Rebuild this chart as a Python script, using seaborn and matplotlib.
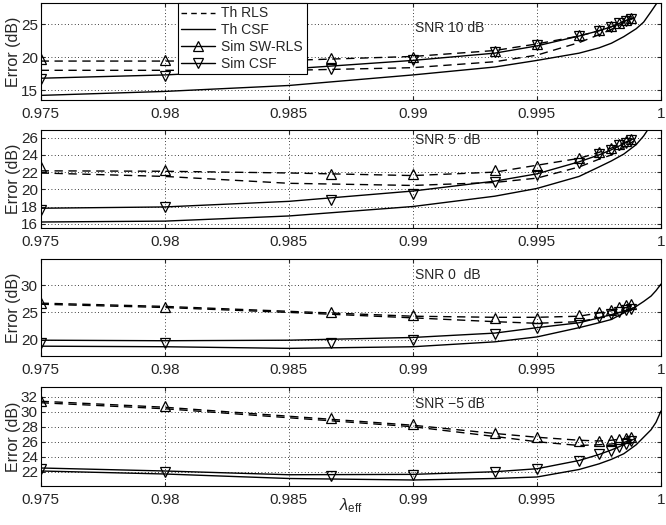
import matplotlib
matplotlib.use("Agg")
import matplotlib.pyplot as plt
from matplotlib.lines import Line2D
import seaborn as sns

# x positions (lambda_eff)
lam_sim = [0.975, 0.98, 0.9867, 0.99, 0.9933, 0.995, 0.9967, 0.9975, 0.998, 0.9983, 0.9986, 0.9988]
lam_th = [0.975, 0.98, 0.985, 0.99, 0.9933, 0.995, 0.9967, 0.9975, 0.998, 0.9985, 0.9989]
lam_csf = [0.975, 0.98, 0.985, 0.99, 0.9933, 0.995, 0.9967, 0.9975, 0.998, 0.9985,
           0.999, 0.9993, 0.9996, 0.9998, 1.0]

# SNR 10 dB
rls_a_10 = [19.4, 19.4, 19.5, 20.1, 21.0, 22.0, 23.2, 24.0, 24.6, 25.4, 26.0]
rls_b_10 = [18.0, 18.0, 18.0, 18.4, 19.3, 20.3, 22.2, 23.4, 24.2, 25.2, 25.9]
csf_a_10 = [16.8, 17.3, 18.2, 19.5, 20.6, 21.7, 23.2, 24.0, 24.6, 25.4, 26.0]
csf_b_10 = [14.2, 14.8, 15.7, 17.3, 18.5, 19.5, 20.6, 21.4, 22.1, 23.1, 24.3, 25.3, 26.9, 28.0, 29.3]
sim_sw_10 = [19.7, 19.6, 19.8, 20.0, 21.0, 22.0, 23.3, 24.1, 24.7, 25.2, 25.6, 25.9]
sim_csf_10 = [16.7, 17.2, 18.2, 19.6, 20.7, 21.8, 23.2, 24.0, 24.6, 25.1, 25.5, 25.8]

# SNR 5 dB
rls_a_5 = [22.15, 22.1, 21.9, 21.6, 22.0, 22.8, 23.6, 24.3, 24.8, 25.4, 25.9]
rls_b_5 = [21.9, 21.5, 20.7, 20.45, 20.8, 21.3, 22.6, 23.5, 24.0, 24.9, 25.6]
csf_a_5 = [17.8, 17.95, 18.6, 19.8, 20.95, 21.8, 23.2, 24.0, 24.6, 25.3, 25.9]
csf_b_5 = [16.2, 16.3, 16.9, 18.0, 19.2, 20.1, 21.5, 22.6, 23.3, 24.1, 25.2, 26.2, 27.5, 28.2, 29.0]
sim_sw_5 = [22.6, 22.2, 21.8, 21.8, 22.3, 22.7, 23.6, 24.3, 24.8, 25.3, 25.6, 25.9]
sim_csf_5 = [17.6, 17.9, 18.8, 19.5, 20.8, 21.65, 23.1, 24.05, 24.6, 25.1, 25.4, 25.7]

# SNR 0 dB
rls_a_0 = [26.7, 26.1, 25.2, 24.3, 24.1, 24.1, 24.3, 24.9, 25.3, 25.8, 26.2]
rls_b_0 = [26.5, 25.9, 25.0, 24.0, 23.3, 23.0, 23.3, 24.0, 24.5, 25.2, 25.8]
csf_a_0 = [19.9, 19.8, 19.9, 20.4, 21.2, 22.2, 23.1, 24.0, 24.6, 25.2, 25.85]
csf_b_0 = [18.8, 18.7, 18.4, 18.7, 19.6, 20.5, 22.2, 23.1, 23.7, 24.9, 26.1, 27.0, 28.0, 29.0, 30.2]
sim_sw_0 = [26.8, 26.0, 25.0, 24.5, 24.0, 23.9, 24.5, 25.1, 25.4, 26.0, 26.3, 26.6]
sim_csf_0 = [19.4, 19.3, 19.4, 20.0, 21.0, 22.2, 23.0, 24.2, 24.7, 25.1, 25.4, 25.6]

# SNR -5 dB
rls_a_m5 = [31.4, 30.6, 29.4, 28.2, 27.1, 26.6, 26.2, 26.1, 26.2, 26.4, 26.6]
rls_b_m5 = [31.2, 30.4, 29.2, 28.0, 26.7, 26.0, 25.5, 25.6, 25.7, 25.9, 26.35]
csf_a_m5 = [22.5, 22.1, 21.6, 21.65, 22.0, 22.4, 23.5, 24.3, 24.9, 25.6, 26.35]
csf_b_m5 = [22.1, 21.7, 21.1, 20.9, 21.1, 21.3, 22.3, 23.05, 23.65, 24.4, 25.6, 26.6, 27.6, 28.6, 30.1]
sim_sw_m5 = [31.4, 30.7, 29.2, 28.4, 27.1, 26.6, 26.05, 26.1, 26.2, 26.4, 26.5, 26.6]
sim_csf_m5 = [22.3, 22.0, 21.4, 21.55, 21.9, 22.35, 23.4, 24.3, 24.8, 25.25, 25.7, 26.05]

snr_labels = ["SNR 10 dB", "SNR 5  dB", "SNR 0  dB", "SNR \u22125 dB"]
x_ticks = [0.975, 0.98, 0.985, 0.99, 0.995, 1.0]
x_ticklabels = ["0.975", "0.98", "0.985", "0.99", "0.995", "1"]

panels = [
    (rls_a_10, rls_b_10, csf_a_10, csf_b_10, sim_sw_10, sim_csf_10),
    (rls_a_5, rls_b_5, csf_a_5, csf_b_5, sim_sw_5, sim_csf_5),
    (rls_a_0, rls_b_0, csf_a_0, csf_b_0, sim_sw_0, sim_csf_0),
    (rls_a_m5, rls_b_m5, csf_a_m5, csf_b_m5, sim_sw_m5, sim_csf_m5),
]
y_ticks = [[15, 20, 25], [16, 18, 20, 22, 24, 26], [20, 25, 30], [22, 24, 26, 28, 30, 32]]
y_lims = [(13.5, 28.2), (15.5, 26.9), (17.0, 34.8), (20.1, 33.3)]
rects = [(0.061, 0.8095, 0.9315, 0.1848),
         (0.061, 0.5657, 0.9315, 0.1867),
         (0.061, 0.3219, 0.9315, 0.1848),
         (0.061, 0.0743, 0.9315, 0.1886)]
text_y = [0.74, 0.90, 0.835, 0.83]

sns.set_style("white")
plt.rcParams['font.family'] = ['Liberation Sans', 'DejaVu Sans']
plt.rcParams['mathtext.fontset'] = 'custom'
plt.rcParams['mathtext.rm'] = 'Liberation Sans'
plt.rcParams['mathtext.it'] = 'Liberation Sans:italic'

dash = (0, (6, 4))
fig = plt.figure(figsize=(6.66, 5.25), dpi=100)

for i, (ra, rb, ca, cb, ssw, scsf) in enumerate(panels):
    ax = fig.add_axes(rects[i])
    sns.lineplot(x=lam_th, y=ra, ax=ax, color='k', lw=1.0, linestyle=dash)
    sns.lineplot(x=lam_th, y=rb, ax=ax, color='k', lw=1.0, linestyle=dash)
    sns.lineplot(x=lam_th, y=ca, ax=ax, color='k', lw=1.0)
    sns.lineplot(x=lam_csf, y=cb, ax=ax, color='k', lw=1.0)
    sns.lineplot(x=lam_sim, y=ssw, ax=ax, color='k', linestyle='', marker='^',
                 markersize=7.5, markerfacecolor='none', markeredgecolor='k', markeredgewidth=0.9)
    sns.lineplot(x=lam_sim, y=scsf, ax=ax, color='k', linestyle='', marker='v',
                 markersize=7.5, markerfacecolor='none', markeredgecolor='k', markeredgewidth=0.9)

    ax.set_xlim(0.975, 1.0)
    ax.set_ylim(*y_lims[i])
    ax.set_xticks(x_ticks)
    ax.set_xticklabels(x_ticklabels)
    ax.set_yticks(y_ticks[i])
    ax.grid(True, color='k', linestyle=(0, (1, 3)), linewidth=0.6)
    ax.tick_params(direction='in', length=3, labelsize=11, top=True, right=True,
                   bottom=True, left=True)
    ax.tick_params(axis='y', pad=2)
    ax.tick_params(axis='x', pad=5)
    for sp in ax.spines.values():
        sp.set_color('k')
        sp.set_linewidth(0.8)
    ax.set_ylabel("Error (dB)", fontsize=11.5)
    ax.yaxis.set_label_coords(-0.032, 0.5)
    ax.set_xlabel("")
    ax.text(0.9901, 0, snr_labels[i], fontsize=10, va='center', ha='left',
            transform=ax.get_xaxis_transform())
    ax.texts[-1].set_y(text_y[i])

    if i == 0:
        handles = [
            Line2D([], [], color='k', lw=1.0, linestyle=(0, (4, 3))),
            Line2D([], [], color='k', lw=1.0),
            Line2D([], [], color='k', lw=1.0, marker='^', markersize=7,
                   markerfacecolor='none', markeredgewidth=0.9),
            Line2D([], [], color='k', lw=1.0, marker='v', markersize=7,
                   markerfacecolor='none', markeredgewidth=0.9),
        ]
        leg = ax.legend(handles, ["Th RLS", "Th CSF", "Sim SW-RLS", "Sim CSF"],
                        loc='upper left', bbox_to_anchor=(0.221, 1.0), borderaxespad=0,
                        fontsize=10, fancybox=False, framealpha=1, edgecolor='k',
                        handlelength=2.4, labelspacing=0.2, borderpad=0.25,
                        handletextpad=0.5)
        leg.get_frame().set_linewidth(0.8)
    if i == 3:
        ax.set_xlabel(r"$\lambda_{\rm eff}$", fontsize=12)
        ax.xaxis.set_label_coords(0.5, -0.2)
        ax.xaxis.label.set_va('center')

fig.savefig("out.png", dpi=100, facecolor='white')
